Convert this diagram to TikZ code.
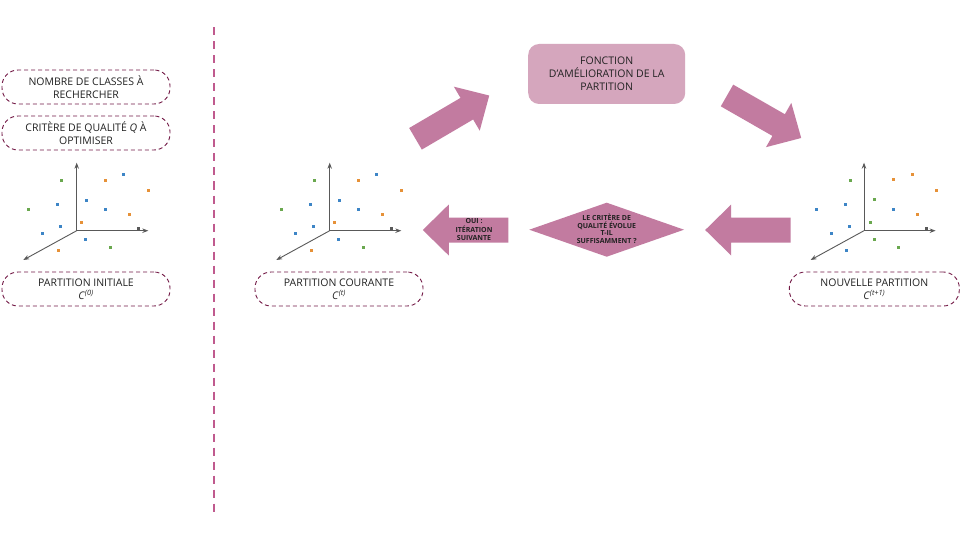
\documentclass[tikz,border=0pt]{standalone}
\usepackage{fontspec}
\setmainfont{Open Sans}
\usetikzlibrary{arrows.meta}
\definecolor{arrowfill}{HTML}{C27BA0}
\definecolor{boxfill}{HTML}{D5A6BD}
\definecolor{dashcol}{HTML}{741B47}
\definecolor{sepcol}{HTML}{C05A8E}
\definecolor{axiscol}{HTML}{595959}
\definecolor{ptblue}{HTML}{3D85C6}
\definecolor{ptorange}{HTML}{E69138}
\definecolor{ptgreen}{HTML}{6AA84F}
\definecolor{txt}{HTML}{222222}
\tikzset{
  dashbox/.style={draw=dashcol, line width=0.9pt, dash pattern=on 4pt off 3pt,
    rounded corners=16pt, minimum width=168pt, minimum height=34pt,
    align=center, text=txt, font=\fontsize{10.5}{13}\selectfont, inner sep=0pt},
  axisline/.style={draw=axiscol, line width=0.9pt, -{Stealth[length=6pt,width=4.5pt]}},
  smallbold/.style={font=\fontsize{7}{8.3}\bfseries\selectfont, align=center, text=txt, inner sep=0pt},
  blockarr/.pic={\fill[arrowfill] (0,-12.5)--(59.5,-12.5)--(59.5,-25.5)--(85.5,0)--(59.5,25.5)--(59.5,12.5)--(0,12.5)--cycle;}
}
\newcommand\scatteraxes{%
  \draw[axisline] (0,0) -- (0,-68);
  \draw[axisline] (0,0) -- (71.6,0);
  \draw[axisline] (0,0) -- (-53.4,29.3);
  \fill[axiscol] (60.5,-3.5) rectangle ++(3,3);
}
\begin{document}
\begin{tikzpicture}[x=1pt,y=-1pt]
\useasboundingbox (0,0) rectangle (960,540);
\fill[white] (0,0) rectangle (960,540);

% separator
\draw[sepcol, line width=2pt, dash pattern=on 8pt off 6pt] (214.3,27.5) -- (214.3,512);

% boxes
\node[dashbox] (nb) at (86,87) {NOMBRE DE CLASSES À\\RECHERCHER};
\node[dashbox] (crit) at (86,133) {CRITÈRE DE QUALITÉ \textit{Q} À\\OPTIMISER};
\node[dashbox] (init) at (86,289) {PARTITION INITIALE\\\textit{C}\textsuperscript{\textit{(0)}}};
\node[dashbox] (cour) at (339,289) {PARTITION COURANTE\\\textit{C}\textsuperscript{\textit{(t)}}};
\node[dashbox, minimum width=170pt] (nouv) at (874.3,289) {NOUVELLE PARTITION\\\textit{C}\textsuperscript{\textit{(t+1)}}};

% scatter plots 1 and 2
\foreach \ox in {76.7,329.7}{
\begin{scope}[shift={(\ox,230.7)}]
  \scatteraxes
  \foreach \px/\py/\pc in {-15/-50/ptgreen, 28.3/-50/ptorange, 46.6/-56.4/ptblue, 71.6/-40.4/ptorange,
      -19.4/-26.4/ptblue, 9.3/-30.7/ptblue, -48.4/-21.4/ptgreen, 28.3/-21.4/ptblue,
      52.3/-16.4/ptorange, -16/-4.4/ptblue, 5/-8.4/ptorange, -34.4/2.6/ptblue,
      9/8.6/ptblue, -18.4/19.3/ptorange, 33.3/16.6/ptgreen}
    \fill[\pc] (\px-1.5,\py-1.5) rectangle ++(3,3);
\end{scope}
}
% scatter plot 3
\begin{scope}[shift={(864,230.7)}]
  \scatteraxes
  \foreach \px/\py/\pc in {-14/-50.4/ptgreen, 29.3/-50.7/ptorange, 48.3/-56.4/ptorange, 72/-40.7/ptorange,
      -18.7/-26.4/ptblue, 10.3/-31/ptgreen, -47.3/-21.4/ptblue, 29.3/-21.7/ptblue,
      53.3/-16.4/ptorange, -14.7/-4.7/ptblue, 6.3/-8.4/ptgreen, -32.7/2.6/ptblue,
      10.3/8.6/ptgreen, -17.3/19.6/ptblue, 34.3/16.3/ptgreen}
    \fill[\pc] (\px-1.5,\py-1.5) rectangle ++(3,3);
\end{scope}

% improvement function box
\node[fill=boxfill, rounded corners=11pt, minimum width=157pt, minimum height=60pt,
      align=center, text=txt, font=\fontsize{10.5}{13}\selectfont, inner sep=0pt]
      (fonc) at (606.7,74) {FONCTION\\D’AMÉLIORATION DE LA\\PARTITION};

% block arrows
\pic (a1) [rotate=30.4] at (415.5,138.8) {blockarr};
\pic (a2) [rotate=-29.8] at (727,95.5) {blockarr};
\pic (a3) [rotate=180] at (790.7,230) {blockarr};
\pic (a4) [rotate=180] at (508.3,230) {blockarr};
\node[smallbold] (oui) at (474,229.5) {OUI :\\ITÉRATION\\SUIVANTE};

% decision diamond
\fill[arrowfill] (529.3,229.7) -- (606.7,202.7) -- (684,229.7) -- (606.7,256.7) -- cycle;
\node[smallbold, font=\fontsize{7}{7.8}\bfseries\selectfont] (dec) at (606.7,228.8)
  {LE CRITÈRE DE\\QUALITÉ ÉVOLUE\\T-IL\\SUFFISAMMENT ?};
\end{tikzpicture}
\end{document}
